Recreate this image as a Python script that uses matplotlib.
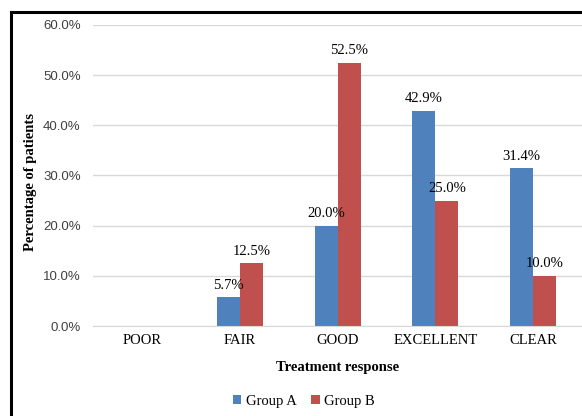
import numpy as np
import matplotlib
matplotlib.use("Agg")
import matplotlib.pyplot as plt
from matplotlib.lines import Line2D

plt.rcParams['font.family'] = ['Liberation Serif', 'DejaVu Serif']

# Treatment response data (percent of patients)
categories = ["POOR", "FAIR", "GOOD", "EXCELLENT", "CLEAR"]
group_a = [0.0, 5.7, 20.0, 42.9, 31.4]
group_b = [0.0, 12.5, 52.5, 25.0, 10.0]
yticks = [0, 10, 20, 30, 40, 50, 60]

blue = "#4F81BD"
red = "#C0504D"
fs = 10.5

fig = plt.figure(figsize=(5.82, 4.16), dpi=100)
ax = fig.add_axes([0.160, 0.2163, 0.840, 0.7237])

x = np.arange(len(categories))
w = 0.235
ax.bar(x - w / 2, group_a, w, color=blue, label="Group A")
ax.bar(x + w / 2, group_b, w, color=red, label="Group B")

# value labels (nothing printed for the empty POOR category)
for xi, a, b in zip(x, group_a, group_b):
    if a > 0:
        ax.text(xi - w / 2, a + 1.1, f"{a:.1f}%", ha="center", va="bottom", fontsize=fs)
    if b > 0:
        ax.text(xi + w / 2, b + 1.1, f"{b:.1f}%", ha="center", va="bottom", fontsize=fs)

ax.set_xlim(-0.5, len(categories) - 0.5)
ax.set_ylim(0, 60)
ax.set_yticks(yticks)
ax.set_yticklabels([f"{t:.1f}%" for t in yticks], fontsize=9.5, color="#404040",
                   family=["Liberation Sans", "DejaVu Sans"])
ax.set_xticks(x)
ax.set_xticklabels(categories, fontsize=fs)
ax.tick_params(axis="y", length=0, pad=9)
ax.tick_params(axis="x", length=0, pad=6)
ax.yaxis.grid(True, color="#D9D9D9", linewidth=1)
ax.set_axisbelow(True)
for s in ["top", "right", "left"]:
    ax.spines[s].set_visible(False)
ax.spines["bottom"].set_color("#D9D9D9")

ax.set_xlabel("Treatment response", fontsize=fs, fontweight="bold", labelpad=10)
fig.text(0.053, 0.5625, "Percentage of patients", rotation=90, fontsize=fs,
         fontweight="bold", ha="center", va="center")

fig.legend(loc="center", bbox_to_anchor=(0.522, 0.036), ncol=2, frameon=False,
           fontsize=fs, handlelength=0.6, handleheight=0.6, handletextpad=0.3,
           columnspacing=1.0)

# frame around the chart, open at the right and bottom
fig.add_artist(Line2D([11 / 582, 11 / 582], [0, 1 - 12 / 416], color="black", lw=2.2))
fig.add_artist(Line2D([11 / 582, 1], [1 - 12 / 416, 1 - 12 / 416], color="black", lw=2.2))

fig.savefig("out.png", dpi=100)
